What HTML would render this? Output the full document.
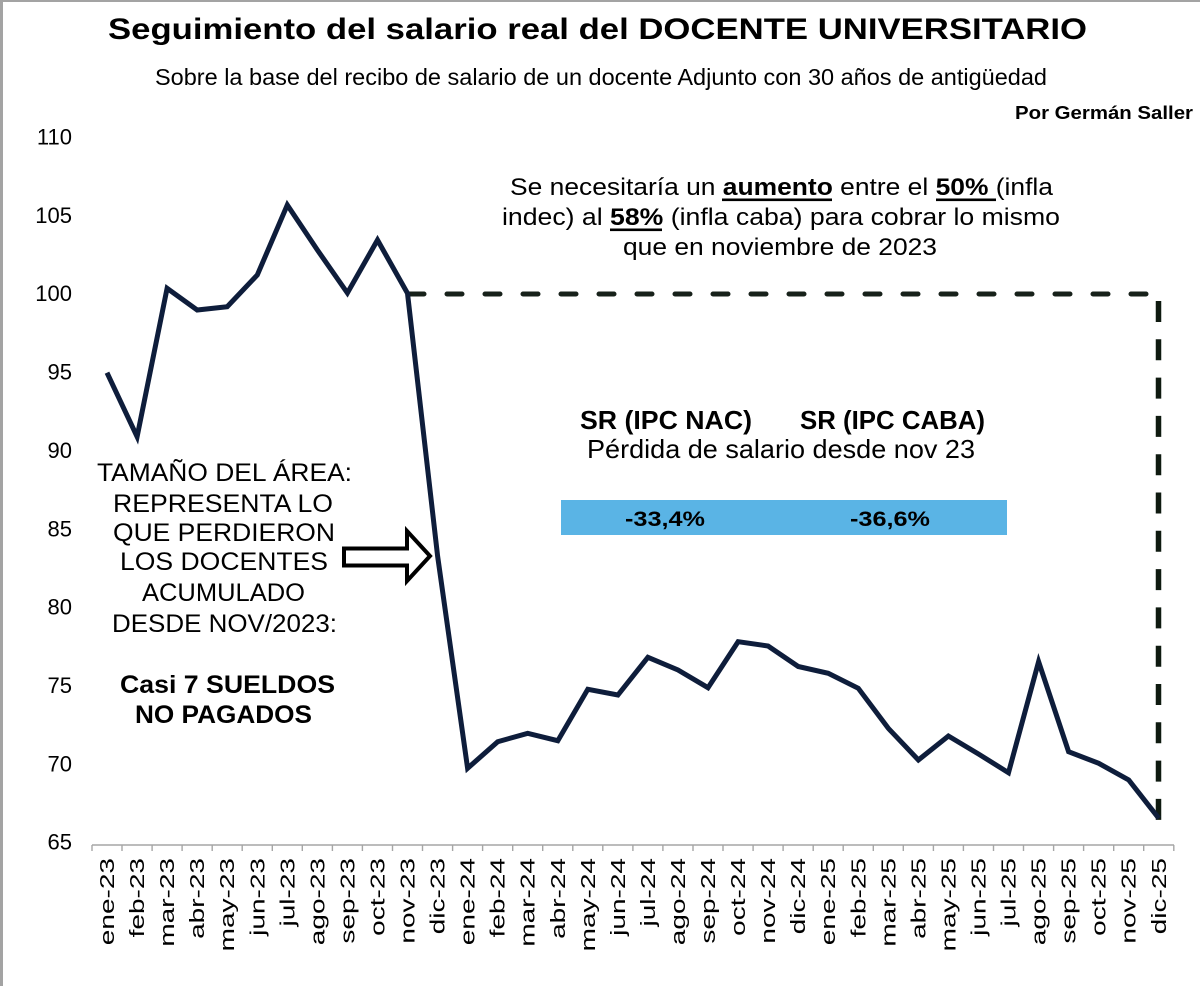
<!DOCTYPE html>
<html>
<head>
<meta charset="utf-8">
<style>
  html,body{margin:0;padding:0;background:#fff;}
  svg{display:block;}
  text{font-family:"Liberation Sans", Arial, sans-serif; fill:#000;}
</style>
</head>
<body>
<svg width="1200" height="986" viewBox="0 0 1200 986" xmlns="http://www.w3.org/2000/svg">
  <rect x="0" y="0" width="1200" height="986" fill="#ffffff"/>
  <!-- frame -->
  <rect x="0" y="0" width="1200" height="2" fill="#a3a3a3"/>
  <rect x="0" y="0" width="3" height="986" fill="#a3a3a3"/>

  <!-- Titles -->
  <text x="108" y="39" font-size="30" font-weight="bold" textLength="979" lengthAdjust="spacingAndGlyphs">Seguimiento del salario real del DOCENTE UNIVERSITARIO</text>
  <text x="155" y="85" font-size="23" textLength="892" lengthAdjust="spacingAndGlyphs">Sobre la base del recibo de salario de un docente Adjunto con 30 años de antigüedad</text>
  <text x="1015" y="119" font-size="18" font-weight="bold" textLength="178" lengthAdjust="spacingAndGlyphs">Por Germán Saller</text>

  <!-- Y tick labels -->
  <g font-size="22" text-anchor="end">
    <text x="72" y="144.5">110</text>
    <text x="72" y="222.9">105</text>
    <text x="72" y="301.2">100</text>
    <text x="72" y="379.6">95</text>
    <text x="72" y="457.9">90</text>
    <text x="72" y="536.3">85</text>
    <text x="72" y="614.6">80</text>
    <text x="72" y="693.0">75</text>
    <text x="72" y="771.3">70</text>
    <text x="72" y="849.7">65</text>
  </g>

  <!-- X axis -->
  <line x1="92" y1="845" x2="1174" y2="845" stroke="#a6a6a6" stroke-width="1.6"/>
  <g stroke="#a6a6a6" stroke-width="1.4">
    <line x1="92.0" y1="845" x2="92.0" y2="851"/>
    <line x1="122.0" y1="845" x2="122.0" y2="851"/>
    <line x1="152.1" y1="845" x2="152.1" y2="851"/>
    <line x1="182.1" y1="845" x2="182.1" y2="851"/>
    <line x1="212.2" y1="845" x2="212.2" y2="851"/>
    <line x1="242.2" y1="845" x2="242.2" y2="851"/>
    <line x1="272.3" y1="845" x2="272.3" y2="851"/>
    <line x1="302.3" y1="845" x2="302.3" y2="851"/>
    <line x1="332.4" y1="845" x2="332.4" y2="851"/>
    <line x1="362.4" y1="845" x2="362.4" y2="851"/>
    <line x1="392.5" y1="845" x2="392.5" y2="851"/>
    <line x1="422.5" y1="845" x2="422.5" y2="851"/>
    <line x1="452.6" y1="845" x2="452.6" y2="851"/>
    <line x1="482.6" y1="845" x2="482.6" y2="851"/>
    <line x1="512.7" y1="845" x2="512.7" y2="851"/>
    <line x1="542.7" y1="845" x2="542.7" y2="851"/>
    <line x1="572.8" y1="845" x2="572.8" y2="851"/>
    <line x1="602.8" y1="845" x2="602.8" y2="851"/>
    <line x1="632.9" y1="845" x2="632.9" y2="851"/>
    <line x1="662.9" y1="845" x2="662.9" y2="851"/>
    <line x1="693.0" y1="845" x2="693.0" y2="851"/>
    <line x1="723.0" y1="845" x2="723.0" y2="851"/>
    <line x1="753.1" y1="845" x2="753.1" y2="851"/>
    <line x1="783.1" y1="845" x2="783.1" y2="851"/>
    <line x1="813.2" y1="845" x2="813.2" y2="851"/>
    <line x1="843.2" y1="845" x2="843.2" y2="851"/>
    <line x1="873.3" y1="845" x2="873.3" y2="851"/>
    <line x1="903.3" y1="845" x2="903.3" y2="851"/>
    <line x1="933.4" y1="845" x2="933.4" y2="851"/>
    <line x1="963.4" y1="845" x2="963.4" y2="851"/>
    <line x1="993.5" y1="845" x2="993.5" y2="851"/>
    <line x1="1023.5" y1="845" x2="1023.5" y2="851"/>
    <line x1="1053.6" y1="845" x2="1053.6" y2="851"/>
    <line x1="1083.6" y1="845" x2="1083.6" y2="851"/>
    <line x1="1113.7" y1="845" x2="1113.7" y2="851"/>
    <line x1="1143.7" y1="845" x2="1143.7" y2="851"/>
    <line x1="1173.8" y1="845" x2="1173.8" y2="851"/>
  </g>

  <!-- X labels -->
  <g font-size="20" text-anchor="end">
    <text transform="translate(114.0,858) rotate(-90) scale(1.4,1)">ene-23</text>
    <text transform="translate(144.1,858) rotate(-90) scale(1.4,1)">feb-23</text>
    <text transform="translate(174.1,858) rotate(-90) scale(1.4,1)">mar-23</text>
    <text transform="translate(204.2,858) rotate(-90) scale(1.4,1)">abr-23</text>
    <text transform="translate(234.2,858) rotate(-90) scale(1.4,1)">may-23</text>
    <text transform="translate(264.3,858) rotate(-90) scale(1.4,1)">jun-23</text>
    <text transform="translate(294.3,858) rotate(-90) scale(1.4,1)">jul-23</text>
    <text transform="translate(324.4,858) rotate(-90) scale(1.4,1)">ago-23</text>
    <text transform="translate(354.4,858) rotate(-90) scale(1.4,1)">sep-23</text>
    <text transform="translate(384.5,858) rotate(-90) scale(1.4,1)">oct-23</text>
    <text transform="translate(414.5,858) rotate(-90) scale(1.4,1)">nov-23</text>
    <text transform="translate(444.6,858) rotate(-90) scale(1.4,1)">dic-23</text>
    <text transform="translate(474.6,858) rotate(-90) scale(1.4,1)">ene-24</text>
    <text transform="translate(504.7,858) rotate(-90) scale(1.4,1)">feb-24</text>
    <text transform="translate(534.7,858) rotate(-90) scale(1.4,1)">mar-24</text>
    <text transform="translate(564.8,858) rotate(-90) scale(1.4,1)">abr-24</text>
    <text transform="translate(594.8,858) rotate(-90) scale(1.4,1)">may-24</text>
    <text transform="translate(624.9,858) rotate(-90) scale(1.4,1)">jun-24</text>
    <text transform="translate(654.9,858) rotate(-90) scale(1.4,1)">jul-24</text>
    <text transform="translate(685.0,858) rotate(-90) scale(1.4,1)">ago-24</text>
    <text transform="translate(715.0,858) rotate(-90) scale(1.4,1)">sep-24</text>
    <text transform="translate(745.1,858) rotate(-90) scale(1.4,1)">oct-24</text>
    <text transform="translate(775.1,858) rotate(-90) scale(1.4,1)">nov-24</text>
    <text transform="translate(805.2,858) rotate(-90) scale(1.4,1)">dic-24</text>
    <text transform="translate(835.2,858) rotate(-90) scale(1.4,1)">ene-25</text>
    <text transform="translate(865.3,858) rotate(-90) scale(1.4,1)">feb-25</text>
    <text transform="translate(895.3,858) rotate(-90) scale(1.4,1)">mar-25</text>
    <text transform="translate(925.4,858) rotate(-90) scale(1.4,1)">abr-25</text>
    <text transform="translate(955.4,858) rotate(-90) scale(1.4,1)">may-25</text>
    <text transform="translate(985.5,858) rotate(-90) scale(1.4,1)">jun-25</text>
    <text transform="translate(1015.5,858) rotate(-90) scale(1.4,1)">jul-25</text>
    <text transform="translate(1045.6,858) rotate(-90) scale(1.4,1)">ago-25</text>
    <text transform="translate(1075.6,858) rotate(-90) scale(1.4,1)">sep-25</text>
    <text transform="translate(1105.7,858) rotate(-90) scale(1.4,1)">oct-25</text>
    <text transform="translate(1135.7,858) rotate(-90) scale(1.4,1)">nov-25</text>
    <text transform="translate(1165.8,858) rotate(-90) scale(1.4,1)">dic-25</text>
  </g>

  <!-- Dashed reference lines -->
  <line x1="409" y1="294" x2="1148" y2="294" stroke="#17211a" stroke-width="5" stroke-linecap="round" stroke-dasharray="15 23"/>
  <line x1="1158.5" y1="301" x2="1158.5" y2="821" stroke="#0f1a10" stroke-width="5.5" stroke-dasharray="21 17.3"/>

  <!-- Data series -->
  <polyline fill="none" stroke="#0e1d3b" stroke-width="5" stroke-linejoin="miter" stroke-miterlimit="6"
    points="107.0,372.7 137.1,436.7 167.1,288.3 197.2,310 227.2,306.7 257.3,275 287.3,205 317.4,250 347.4,293 377.5,240 407.5,293.3 437.6,556 467.6,768.3 497.7,741.7 527.7,733.3 557.8,740.7 587.8,689.3 617.9,695 647.9,657.3 678.0,670 708.0,687.7 738.1,641.7 768.1,646 798.2,666.5 828.2,673.3 858.3,688.3 888.3,728.3 918.4,760 948.4,736 978.5,754 1008.5,772.7 1038.6,661.7 1068.6,751.7 1098.7,763.3 1128.7,780 1158.8,818.3"/>

  <!-- Top annotation -->
  <text x="510" y="195" font-size="24" textLength="543" lengthAdjust="spacingAndGlyphs">Se necesitaría un <tspan font-weight="bold">aumento</tspan> entre el <tspan font-weight="bold">50% </tspan>(infla</text>
  <rect x="722" y="198.5" width="110" height="2.6" fill="#000"/>
  <rect x="936" y="198.5" width="60" height="2.6" fill="#000"/>
  <text x="502" y="225" font-size="24" textLength="558" lengthAdjust="spacingAndGlyphs">indec) al <tspan font-weight="bold">58%</tspan> (infla caba) para cobrar lo mismo</text>
  <rect x="610" y="228.5" width="52" height="2.6" fill="#000"/>
  <text x="623" y="255" font-size="24" textLength="314" lengthAdjust="spacingAndGlyphs">que en noviembre de 2023</text>

  <!-- SR block -->
  <text x="580" y="429" font-size="26" font-weight="bold" textLength="172" lengthAdjust="spacingAndGlyphs">SR (IPC NAC)</text>
  <text x="800" y="429" font-size="26" font-weight="bold" textLength="185" lengthAdjust="spacingAndGlyphs">SR (IPC CABA)</text>
  <text x="587" y="458" font-size="26" textLength="388" lengthAdjust="spacingAndGlyphs">Pérdida de salario desde nov  23</text>
  <rect x="561" y="500" width="446" height="35" fill="#5ab4e5"/>
  <text x="625" y="526" font-size="21" font-weight="bold" textLength="80" lengthAdjust="spacingAndGlyphs">-33,4%</text>
  <text x="850" y="526" font-size="21" font-weight="bold" textLength="80" lengthAdjust="spacingAndGlyphs">-36,6%</text>

  <!-- Left annotation -->
  <g font-size="25">
    <text x="97" y="481" textLength="255" lengthAdjust="spacingAndGlyphs">TAMAÑO  DEL ÁREA:</text>
    <text x="113" y="512" textLength="220" lengthAdjust="spacingAndGlyphs">REPRESENTA LO</text>
    <text x="113" y="541" textLength="222" lengthAdjust="spacingAndGlyphs">QUE PERDIERON</text>
    <text x="120" y="570" textLength="208" lengthAdjust="spacingAndGlyphs">LOS DOCENTES</text>
    <text x="142" y="601" textLength="163" lengthAdjust="spacingAndGlyphs">ACUMULADO</text>
    <text x="112" y="632" textLength="225" lengthAdjust="spacingAndGlyphs">DESDE NOV/2023:</text>
    <text x="120" y="693" font-weight="bold" textLength="215" lengthAdjust="spacingAndGlyphs">Casi 7 SUELDOS</text>
    <text x="135" y="723" font-weight="bold" textLength="177" lengthAdjust="spacingAndGlyphs">NO PAGADOS</text>
  </g>

  <!-- Arrow -->
  <polygon points="344,548.5 407,548.5 407,531 430,556 407,581 407,565.5 344,565.5" fill="#ffffff" stroke="#000" stroke-width="4" stroke-linejoin="miter"/>
</svg>
</body>
</html>
